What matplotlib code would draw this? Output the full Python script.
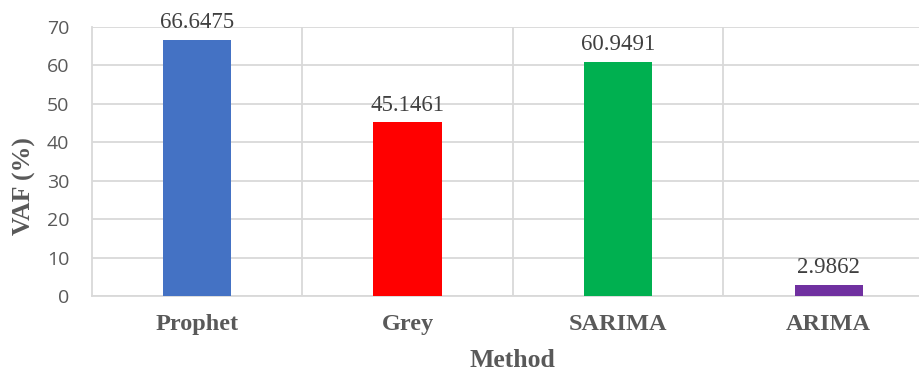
import numpy as np
import matplotlib
matplotlib.use("Agg")
import matplotlib.pyplot as plt
from matplotlib.ticker import FixedLocator

# VAF scores per forecasting method
methods = ["Prophet", "Grey", "SARIMA", "ARIMA"]
vaf = [66.6475, 45.1461, 60.9491, 2.9862]
bar_colors = ["#4472C4", "#FF0000", "#00B050", "#7030A0"]
y_ticks = [0, 10, 20, 30, 40, 50, 60, 70]

grid_col = "#D9D9D9"
text_col = "#595959"

fig = plt.figure(figsize=(9.2, 3.72), dpi=100)
ax = fig.add_axes([0.0995, 0.2043, 0.9158, 0.7239])

x = np.arange(len(methods))
ax.bar(x, vaf, width=0.323, color=bar_colors, zorder=3)

for xi, v in zip(x, vaf):
    ax.annotate(f"{v:.4f}", (xi, v), xytext=(0, 8), textcoords="offset points",
                ha="center", va="baseline", fontsize=16.5,
                family="Liberation Serif", color="#404040", zorder=4)

ax.set_xlim(-0.5, len(methods) - 0.5)
ax.set_ylim(0, 70)
ax.set_yticks(y_ticks)
ax.set_yticklabels([str(t) for t in y_ticks], family="Open Sans",
                   fontsize=14, color=text_col)
ax.set_xticks(x)
ax.set_xticklabels(methods, family="Liberation Serif", fontweight="bold",
                   fontsize=17.5, color=text_col)
ax.tick_params(axis="y", length=0, pad=16)
ax.tick_params(axis="x", length=0, pad=13)

# category separators + horizontal grid
ax.xaxis.set_minor_locator(FixedLocator(x[:-1] + 0.5))
ax.tick_params(axis="x", which="minor", length=0)
ax.grid(axis="x", which="minor", color=grid_col, lw=1.3, zorder=0)
ax.grid(axis="y", which="major", color=grid_col, lw=1.3, zorder=0)

for s in ["top", "right"]:
    ax.spines[s].set_visible(False)
for s in ["left", "bottom"]:
    ax.spines[s].set_color(grid_col)
    ax.spines[s].set_linewidth(1.3)

fig.text(24 / 920, 0.5, "VAF (%)", rotation=90, ha="center", va="center",
         family="Liberation Serif", fontweight="bold", fontsize=18.5,
         color=text_col)
fig.text(512 / 920, 0.013, "Method", ha="center", va="baseline",
         family="Liberation Serif", fontweight="bold", fontsize=18.5,
         color=text_col)

fig.savefig("out.png", dpi=100)
